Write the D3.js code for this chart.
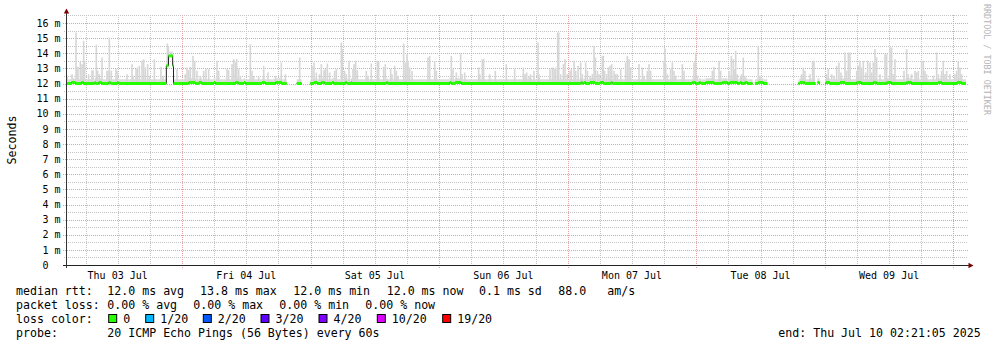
<!DOCTYPE html>
<html>
<head>
<meta charset="utf-8">
<title>Smokeping median rtt</title>
<style>
body { margin: 0; background: #fff; }
svg { display: block; font-family: "DejaVu Sans Mono", monospace; }
</style>
<script src="https://d3js.org/d3.v7.min.js"></script>
</head>
<body>
<svg id="chart" width="997" height="347"></svg>
<script>
// ---- data -------------------------------------------------------------
const endTime = new Date(2025, 6, 10, 2, 21, 5);
const startTime = new Date(endTime.getTime() - 7 * 24 * 3600e3);
const yMax = 16.53;

const yTickValues = [0, 1, 2, 3, 4, 5, 6, 7, 8, 9, 10, 11, 12, 13, 14, 15, 16];
const yMinorValues = [0.5, 1.5, 2.5, 3.5, 4.5, 5.5, 6.5, 7.5, 8.5, 9.5, 10.5, 11.5, 12.5, 13.5, 14.5, 15.5, 16.5];
const dayLabels = ["Thu 03 Jul", "Fri 04 Jul", "Sat 05 Jul", "Sun 06 Jul", "Mon 07 Jul", "Tue 08 Jul", "Wed 09 Jul"];

// median rtt (ms): change points [hours since start, value], null = no data
const median = [
  [0, 12.0], [0.99, 12.07], [1.74, 12.0], [2.86, 12.07], [3.30, 12.0], [5.35, 12.07], [5.60, 12.0],
  [6.10, 12.07], [6.59, 12.0], [7.96, 12.07], [8.34, 12.0], [9.52, 12.07], [9.83, 12.0],
  [18.73, 13.17], [19.13, 13.83], [19.91, 13.17], [20.07, 12.0],
  [22.9, 12.07], [24.1, 12.0], [24.8, 12.07], [25.4, 12.0], [27.6, 12.07], [27.9, 12.0],
  [31.6, 12.07], [32.2, 12.0], [33.2, 12.07], [33.5, 12.0], [36.6, 12.07], [37.2, 12.0],
  [39.1, 12.07], [40.3, 12.0], [41.2, null], [43.06, 12.0], [44.0, null], [45.6, 12.0],
  [46.3, 12.07], [46.9, 12.0], [47.66, 12.07], [48.28, 12.0], [49.65, 12.07], [50.0, 12.0],
  [52.1, 12.07], [52.4, 12.0], [53.2, 12.07], [53.4, 12.0], [59.8, 12.07], [60.1, 12.0],
  [71.6, 12.07], [71.9, 12.0], [72.6, 12.07], [73.8, 12.0], [96.1, 12.07], [96.4, 12.0],
  [96.7, 12.07], [97.0, 12.0], [97.8, 12.07], [98.75, 12.0], [99.7, 12.07], [100.4, 12.0],
  [101.7, 12.07], [102.0, 12.0], [116.9, 12.07], [117.5, 12.0], [118.2, 12.07], [118.5, 12.0],
  [119.4, 12.07], [121.0, 12.0], [122.5, 12.07], [123.5, 12.0], [123.9, 12.07], [125.3, 12.0],
  [125.8, 12.07], [126.1, 12.0], [126.7, 12.07], [127.2, 12.0], [128.15, null], [128.6, 12.0],
  [129.2, 12.07], [130.2, 12.0], [130.9, null], [136.7, 12.0], [137.0, 12.07], [137.9, 12.0],
  [139.87, null], [140.28, 12.07], [140.6, 12.0], [140.74, null], [141.73, 12.0],
  [141.9, 12.07], [142.6, 12.0], [144.5, 12.07], [145.4, 12.0], [147.6, 12.07], [148.5, 12.0],
  [150.7, 12.07], [151.3, 12.0], [153.2, 12.07], [154.1, 12.0], [156.9, 12.07], [157.8, 12.0],
  [162.8, 12.07], [163.5, 12.0], [166.3, 12.07], [167.2, 12.0], [168, 12.0]
];

// smoke (max rtt of the 20 pings): [hours since start, ms]
const smoke = [
  [0.19, 12.51], [1.12, 12.62], [1.87, 15.37], [2.05, 13.10], [2.24, 13.10], [2.68, 13.43], [2.99, 13.28],
  [3.30, 14.82], [3.48, 13.50], [4.23, 12.62], [4.85, 12.88], [5.04, 12.88], [5.66, 14.56], [5.91, 12.84],
  [6.22, 12.62], [6.72, 13.72], [7.65, 12.84], [7.84, 12.84], [8.09, 15.04], [8.46, 12.84], [9.33, 12.95],
  [9.52, 12.84], [11.39, 12.62], [12.32, 13.28], [12.51, 12.51], [13.07, 12.95], [13.32, 13.06],
  [13.69, 13.17], [14.19, 13.50], [14.50, 13.61], [14.81, 13.06], [15.24, 13.28], [15.62, 12.51],
  [16.49, 13.61], [17.73, 13.10], [18.11, 12.51], [18.92, 14.64], [19.10, 14.49], [19.48, 13.94],
  [19.79, 14.05], [20.72, 12.95], [22.27, 12.62], [22.59, 13.06], [22.90, 12.88], [23.21, 13.10],
  [23.71, 13.83], [24.02, 13.50], [24.45, 12.84], [25.07, 12.51], [25.70, 12.84], [26.13, 12.95],
  [26.63, 12.95], [28.19, 13.50], [28.50, 12.84], [30.05, 12.95], [30.36, 12.88], [30.99, 13.28],
  [31.30, 13.61], [31.61, 13.39], [31.86, 13.61], [32.23, 12.95], [32.54, 12.51], [34.41, 14.60],
  [34.72, 12.84], [35.03, 12.51], [35.96, 12.51], [36.90, 13.17], [37.71, 12.73], [39.07, 12.51],
  [40.19, 13.39], [40.95, 12.62],
  [43.62, 13.72], [45.92, 13.17], [46.29, 13.39], [46.73, 12.73], [47.35, 12.62], [47.66, 13.28],
  [48.16, 12.88], [48.41, 12.95], [48.78, 13.32], [49.22, 12.73], [50.15, 12.84], [50.46, 12.95],
  [51.40, 14.71], [51.58, 14.27], [52.02, 12.84], [52.33, 12.62], [52.83, 13.50], [53.57, 12.95],
  [53.76, 13.28], [54.07, 13.50], [54.38, 12.88], [56.06, 12.84], [56.37, 12.51], [56.99, 13.32],
  [58.11, 13.50], [58.36, 13.50], [59.30, 13.10], [59.61, 13.28], [60.60, 12.95], [60.85, 12.62],
  [61.35, 13.17], [61.66, 12.84], [61.97, 12.51], [63.03, 14.64], [63.34, 13.39], [63.65, 13.94],
  [63.84, 13.50], [64.15, 13.06], [64.59, 12.84], [67.57, 13.72], [67.88, 13.83], [68.82, 13.50],
  [69.13, 12.84], [71.93, 13.83], [72.24, 12.95], [72.86, 12.73], [73.67, 13.98], [73.92, 12.62],
  [74.42, 12.73], [77.03, 13.06], [77.22, 12.62], [77.71, 13.61], [77.96, 13.61], [79.08, 12.62],
  [80.14, 12.84], [82.19, 13.28],
  [83.75, 12.95], [85.37, 13.06], [85.68, 12.62], [85.99, 12.73], [86.43, 12.51], [86.74, 12.62],
  [87.36, 12.84], [88.11, 14.71], [88.30, 12.62], [90.35, 12.95], [90.79, 13.06], [91.10, 12.95],
  [91.41, 13.06], [91.78, 15.37], [91.97, 15.37], [92.34, 12.62], [92.84, 13.28], [93.15, 13.61],
  [93.59, 12.62], [94.08, 12.84], [94.33, 12.95], [94.83, 13.50], [95.14, 12.84], [95.58, 13.17],
  [96.07, 13.39], [96.39, 12.62], [97.01, 13.39], [97.32, 12.84], [97.82, 12.51], [98.25, 12.62],
  [98.56, 14.49], [98.81, 13.72], [99.19, 12.84], [99.50, 12.62], [100.12, 13.83], [100.31, 13.83],
  [100.55, 12.84], [100.93, 12.62], [101.24, 13.06], [101.55, 13.17], [101.86, 13.28], [102.30, 12.84],
  [102.61, 12.62], [102.92, 12.62], [103.54, 12.95], [104.47, 13.39], [104.79, 13.83], [105.10, 13.61],
  [105.41, 13.06], [106.96, 13.28], [107.59, 13.06], [107.90, 12.51], [108.52, 12.84], [108.83, 13.28],
  [109.14, 12.84], [111.63, 13.50], [111.82, 14.33], [111.94, 13.28], [112.25, 12.62], [112.87, 12.95],
  [113.19, 13.39], [113.50, 12.84], [113.81, 12.51], [115.05, 13.28], [115.36, 12.84], [117.23, 13.39],
  [117.54, 14.05], [117.85, 12.51], [120.65, 12.84], [120.96, 13.10], [121.90, 13.50], [122.21, 12.84],
  [123.76, 12.84], [124.20, 13.83], [124.57, 13.61], [124.82, 12.95], [125.01, 14.16], [125.32, 12.62],
  [125.94, 12.51],
  [126.12, 12.62], [126.43, 13.72], [126.74, 12.51], [129.23, 14.49], [129.54, 12.51],
  [137.32, 12.62], [137.63, 13.06], [137.94, 12.84], [138.88, 12.62], [139.37, 13.50], [139.62, 13.50],
  [141.99, 12.62], [142.30, 12.95], [142.92, 12.62], [143.36, 12.51], [143.85, 13.17], [144.29, 13.39],
  [144.66, 12.73], [145.41, 14.05], [145.72, 12.84], [146.03, 14.05], [146.34, 14.05], [147.59, 12.84],
  [147.90, 13.17], [148.21, 13.50], [148.52, 13.06], [148.83, 13.50], [149.27, 12.73], [149.64, 13.50],
  [150.08, 13.39], [150.39, 12.73], [150.70, 13.39], [151.01, 14.27], [151.32, 13.72], [151.94, 12.62],
  [152.88, 13.94], [153.19, 13.94], [153.81, 14.38], [154.12, 14.38], [154.43, 12.62], [154.74, 13.61],
  [156.42, 12.84], [156.92, 14.27], [157.23, 12.62], [157.85, 12.62], [158.48, 12.84], [158.79, 12.73],
  [159.10, 12.84], [159.72, 13.50], [160.03, 13.50], [160.34, 12.84], [160.65, 12.62], [161.90, 12.51],
  [162.52, 14.05], [162.83, 12.62], [163.45, 12.84], [163.76, 13.50], [164.08, 12.62], [164.39, 12.84],
  [165.01, 12.62], [165.94, 12.62], [166.25, 12.84], [166.56, 13.50], [166.88, 13.06], [167.19, 12.62]
];
const baseSpread = 0.28;   // dense low smoke just above the median

const rttLabels = ["avg", "max", "min", "now"];
const rttValues = [12.0, 13.8, 12.0, 12.0];
const rttSd = 0.1;
const rttAmS = 88.0;
const lossValues = [0, 0, 0, 0];
const lossNames = ["0", "1/20", "2/20", "3/20", "4/20", "10/20", "19/20"];
const lossColors = ["#26ff00", "#00b8ff", "#0059ff", "#5e00ff", "#7e00ff", "#dd00ff", "#ff0000"];
const probeText = "20 ICMP Echo Pings (56 Bytes) every 60s";

// ---- chart ------------------------------------------------------------
const svg = d3.select("#chart");
const X0 = 66, X1 = 966, Y0 = 265, Y1 = 15;
const x = d3.scaleTime().domain([startTime, endTime]).range([X0, X1]);
const y = d3.scaleLinear().domain([0, yMax]).range([Y0, Y1]);
const at = h => new Date(startTime.getTime() + h * 3600e3);
const crisp = v => Math.round(v) + 0.5;

// grid
const grid = svg.append("g").attr("stroke-dasharray", "1,1").attr("stroke-width", 1);
grid.selectAll(".hmin").data(yMinorValues).join("line")
  .attr("x1", 64).attr("x2", 968)
  .attr("y1", d => crisp(y(d))).attr("y2", d => crisp(y(d)))
  .attr("stroke", "#c4c4c4");
const hours6 = d3.timeHour.every(6).range(startTime, endTime).filter(d => d.getHours() !== 0);
grid.selectAll(".vmin").data(hours6).join("line")
  .attr("x1", d => crisp(x(d))).attr("x2", d => crisp(x(d)))
  .attr("y1", Y1).attr("y2", Y0 + 2)
  .attr("stroke", "#c4c4c4");
grid.selectAll(".hmaj").data(yTickValues.filter(d => d > 0)).join("line")
  .attr("x1", 63).attr("x2", 968)
  .attr("y1", d => crisp(y(d))).attr("y2", d => crisp(y(d)))
  .attr("stroke", "#e3a0a0");
const days = d3.timeDay.range(startTime, endTime);
grid.selectAll(".vmaj").data(days).join("line")
  .attr("x1", d => crisp(x(d))).attr("x2", d => crisp(x(d)))
  .attr("y1", Y1).attr("y2", Y0 + 3)
  .attr("stroke", "#e3a0a0");

// median as flat pieces
const flats = [];
for (let i = 0; i < median.length - 1; i++) {
  if (median[i][1] !== null) flats.push({ t0: median[i][0], t1: median[i + 1][0], v: median[i][1] });
}
const medianAt = h => {
  const f = flats.find(f => h >= f.t0 && h < f.t1);
  return f ? f.v : 12.0;
};

// base smoke band
svg.append("g").selectAll("rect").data(flats).join("rect")
  .attr("x", d => x(at(d.t0))).attr("width", d => x(at(d.t1)) - x(at(d.t0)))
  .attr("y", d => y(d.v + baseSpread)).attr("height", d => y(d.v) - y(d.v + baseSpread))
  .attr("fill", "#dcdcdc");

// smoke spikes
svg.append("g").selectAll("rect").data(smoke).join("rect")
  .attr("x", d => x(at(d[0])) - 0.8).attr("width", 1.6)
  .attr("y", d => y(d[1])).attr("height", d => y(medianAt(d[0])) - y(d[1]))
  .attr("fill", "#d6d6d6");

// median: dark connecting line, then loss coloured flats
const runs = [];
flats.forEach(f => {
  const last = runs[runs.length - 1];
  if (last && Math.abs(last[last.length - 1].t1 - f.t0) < 1e-9) last.push(f);
  else runs.push([f]);
});
const medLine = d3.line().x(d => x(at(d[0]))).y(d => y(d[1]));
svg.append("g").selectAll("path").data(runs).join("path")
  .attr("d", r => medLine(r.flatMap(f => [[f.t0, f.v], [f.t1, f.v]])))
  .attr("fill", "none").attr("stroke", "#202020").attr("stroke-width", 1);
svg.append("g").selectAll("line").data(flats).join("line")
  .attr("x1", d => x(at(d.t0))).attr("x2", d => x(at(d.t1)))
  .attr("y1", d => y(d.v)).attr("y2", d => y(d.v))
  .attr("stroke", lossColors[0]).attr("stroke-width", 3);

// axes
svg.append("line").attr("x1", 63).attr("x2", 969).attr("y1", Y0 + 0.5).attr("y2", Y0 + 0.5)
  .attr("stroke", "#222");
svg.append("line").attr("x1", X0 + 0.5).attr("x2", X0 + 0.5).attr("y1", Y0 + 3).attr("y2", 13)
  .attr("stroke", "#333");
svg.append("path").attr("d", "M66.5,8.5 L63.8,13.5 L69.2,13.5 Z").attr("fill", "#7f0000");
svg.append("path").attr("d", "M973.5,265.5 L968.5,262.8 L968.5,268.2 Z").attr("fill", "#7f0000");

// y tick labels
svg.append("g").attr("font-size", 10).attr("fill", "#000").attr("text-anchor", "end")
  .selectAll("text").data(yTickValues).join("text")
  .attr("xml:space", "preserve").style("white-space", "pre")
  .attr("x", 60.5).attr("y", d => y(d) + 3.7)
  .text(d => d === 0 ? "0  " : d + " m");

// x tick labels at noon
svg.append("g").attr("font-size", 10).attr("fill", "#000").attr("text-anchor", "middle")
  .selectAll("text").data(dayLabels).join("text")
  .attr("x", (d, i) => x(new Date(2025, 6, 3 + i, 12))).attr("y", 278.5)
  .text(d => d);

// side texts
svg.append("text").attr("transform", "translate(15.5,140) rotate(-90)")
  .attr("text-anchor", "middle").attr("font-size", 11.6).text("Seconds");
svg.append("text").attr("transform", "translate(983.5,4) rotate(90)")
  .attr("font-size", 8.4).attr("fill", "#b4b4b4").text("RRDTOOL / TOBI OETIKER");

// legend
const leg = svg.append("g").attr("font-size", 11.6).attr("fill", "#000")
  .attr("xml:space", "preserve").style("white-space", "pre");
const put = (txt, px, py) => leg.append("text").attr("x", px).attr("y", py).text(txt);
const f1 = d3.format(".1f"), f2 = d3.format(".2f");

put("median rtt:", 16, 295);
[107.3, 200, 293.3, 386.7].forEach((px, i) => put(`${f1(rttValues[i])} ms ${rttLabels[i]}`, px, 295));
put(`${f1(rttSd)} ms sd`, 479, 295);
put(f1(rttAmS), 558.3, 295);
put("am/s", 607.3, 295);

put("packet loss:", 16, 309);
[107.3, 193.3, 279.3, 365.3].forEach((px, i) => put(`${f2(lossValues[i])} % ${rttLabels[i]}`, px, 309));

put("loss color:", 16, 323);
const boxX = [108.7, 145.7, 203.3, 261, 319, 377.3, 442.7];
lossNames.forEach((n, i) => {
  leg.append("rect").attr("x", boxX[i]).attr("y", 314.5).attr("width", 8).attr("height", 8)
    .attr("fill", lossColors[i]).attr("stroke", "#000").attr("stroke-width", 1);
  put(n, boxX[i] + 14.5, 323);
});

put("probe:", 16, 337);
put(probeText, 107.3, 337);
put("end: " + d3.timeFormat("%a %b %d %H:%M:%S %Y")(endTime), 778.3, 337);
</script>
</body>
</html>
